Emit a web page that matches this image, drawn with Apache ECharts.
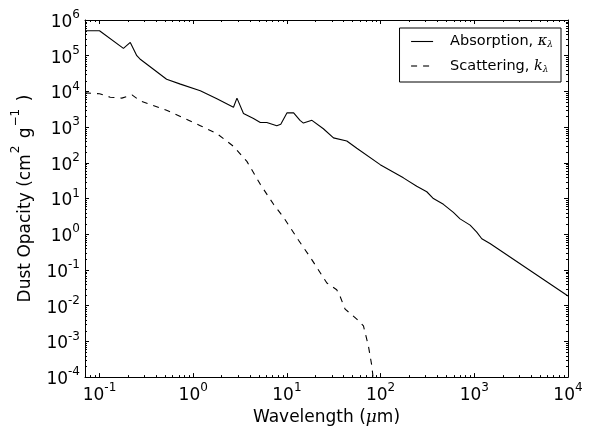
<!DOCTYPE html>
<html>
<head>
<meta charset="utf-8">
<script src="https://cdn.jsdelivr.net/npm/echarts@6/dist/echarts.min.js"></script>
<style>
html,body{margin:0;padding:0;background:#fff;}
#chart{width:593px;height:431px;}
</style>
</head>
<body>
<div id="chart"></div>
<script>
// Absorption curve (wavelength in micron, opacity cm^2/g)
var absorptionWavelength = [0.07, 0.1, 0.18, 0.213, 0.25, 0.27, 0.52, 0.73, 1.19, 1.79, 2.69, 2.93, 3.44, 4.4, 5.2, 6.1, 7.8, 8.6, 10, 11.8, 13.8, 15, 18.5, 24.5, 31.4, 43.6, 55.7, 99, 175, 243, 311, 366, 468, 598, 705, 902, 1062, 1202, 1470, 10000];
var absorptionOpacity = [5.0e5, 5.0e5, 1.6e5, 2.35e5, 1.0e5, 8.1e4, 2.2e4, 1.6e4, 1.05e4, 6.2e3, 3.6e3, 6.5e3, 2.4e3, 1.74e3, 1.35e3, 1.35e3, 1.1e3, 1.2e3, 2.5e3, 2.5e3, 1.55e3, 1.3e3, 1.55e3, 900, 500, 410, 257, 89, 38, 22, 15.5, 10, 6.9, 4.1, 2.7, 1.8, 1.15, 0.75, 0.55, 0.0186];
// Scattering curve
var scatteringWavelength = [0.07, 0.1, 0.13, 0.173, 0.222, 0.27, 0.52, 1.19, 1.79, 2.69, 3.74, 5.2, 7.2, 9.2, 13.3, 17.7, 26.7, 34, 37, 41.8, 55.7, 65.6, 74, 80.5, 83];
var scatteringOpacity = [9.1e3, 8.6e3, 6.9e3, 6.5e3, 8.0e3, 5.5e3, 2.96e3, 1.1e3, 660, 290, 110, 25, 6.9, 3.0, 0.68, 0.23, 0.043, 0.028, 0.018, 0.008, 0.0042, 0.0027, 7.6e-4, 2.1e-4, 1.0e-4];
// Axis ranges
var xRange = [0.07, 10000];
var yRange = [1e-4, 1e6];
var xDecades = [-2, -1, 0, 1, 2, 3];
var yDecades = [-4, -3, -2, -1, 0, 1, 2, 3, 4, 5];
var minorMultipliers = [2, 3, 4, 5, 6, 7, 8, 9];

function zip(a, b) { return a.map(function (v, i) { return [v, b[i]]; }); }
function minorList(decades, range) {
  var out = [];
  decades.forEach(function (d) {
    minorMultipliers.forEach(function (m) {
      var v = m * Math.pow(10, d);
      if (v > range[0] && v < range[1]) out.push(v);
    });
  });
  return out;
}
var xMinor = minorList(xDecades, xRange).map(function (v) { return [v, 1]; });
var yMinor = minorList(yDecades, yRange).map(function (v) { return [1, v]; });

var FONT = 'DejaVu Sans';
function powLabel(v) {
  var l = Math.log10(v);
  var e = Math.round(l);
  if (Math.abs(l - e) > 1e-6) return '';
  return '{b|10}{s|' + e + '}';
}
var labelRich = {
  b: { fontSize: 17, fontFamily: FONT, color: '#000', lineHeight: 22, verticalAlign: 'bottom' },
  s: { fontSize: 12, fontFamily: FONT, color: '#000', lineHeight: 22, verticalAlign: 'top', padding: [0, 0, 7, 0] }
};

var chart = echarts.init(document.getElementById('chart'), null, { renderer: 'canvas' });

function minorTickRender(isX) {
  return function (params, api) {
    var cs = params.coordSys;
    var p = api.coord([api.value(0), api.value(1)]);
    var ch;
    if (isX) {
      var x = Math.round(p[0]) + 0.5;
      ch = [
        { type: 'line', shape: { x1: x, y1: cs.y + cs.height, x2: x, y2: cs.y + cs.height - 2 }, style: { stroke: '#000', lineWidth: 1 } },
        { type: 'line', shape: { x1: x, y1: cs.y, x2: x, y2: cs.y + 2 }, style: { stroke: '#000', lineWidth: 1 } }
      ];
    } else {
      var y = Math.round(p[1]) + 0.5;
      ch = [
        { type: 'line', shape: { x1: cs.x, y1: y, x2: cs.x + 2, y2: y }, style: { stroke: '#000', lineWidth: 1 } },
        { type: 'line', shape: { x1: cs.x + cs.width, y1: y, x2: cs.x + cs.width - 2, y2: y }, style: { stroke: '#000', lineWidth: 1 } }
      ];
    }
    return { type: 'group', children: ch };
  };
}

var option = {
  backgroundColor: '#fff',
  animation: false,
  grid: { left: 85, right: 25, top: 20, bottom: 49, containLabel: false },
  legend: {
    orient: 'vertical',
    right: 32,
    top: 28,
    data: ['Absorption', 'Scattering'],
    itemWidth: 22,
    itemHeight: 14,
    itemGap: 9,
    padding: [6, 8, 8, 11],
    borderColor: '#000',
    borderWidth: 1,
    borderRadius: 0,
    itemStyle: { opacity: 0 },
    lineStyle: { width: 1.1 },
    formatter: function (name) {
      if (name === 'Absorption') return '{t|Absorption, }{m|κ}{sub|λ}';
      return '{t|Scattering, }{m|k}{sub|λ}';
    },
    textStyle: {
      padding: [0, 0, 0, 12],
      rich: {
        t: { fontSize: 14.5, fontFamily: FONT, color: '#000', lineHeight: 16 },
        m: { fontSize: 14.5, fontFamily: 'DejaVu Serif', fontStyle: 'italic', color: '#000', lineHeight: 16 },
        sub: { fontSize: 9, fontFamily: 'DejaVu Serif', fontStyle: 'italic', color: '#000', lineHeight: 16, verticalAlign: 'bottom', padding: [6, 0, 0, 0] }
      }
    }
  },
  xAxis: [{
    type: 'log', logBase: 10, min: xRange[0], max: xRange[1],
    position: 'bottom',
    name: '{t|Wavelength (}{m|μ}{t|m)}',
    nameLocation: 'middle', nameGap: 30,
    nameTextStyle: {
      rich: {
        t: { fontSize: 17, fontFamily: FONT, color: '#000' },
        m: { fontSize: 17, fontFamily: 'DejaVu Serif', fontStyle: 'italic', color: '#000' }
      }
    },
    axisLine: { show: true, lineStyle: { color: '#000', width: 1 } },
    axisTick: { show: true, inside: true, length: 4, lineStyle: { color: '#000' } },
    axisLabel: { show: true, showMinLabel: false, formatter: powLabel, rich: labelRich, margin: 5 },
    splitLine: { show: false }
  }, {
    type: 'log', logBase: 10, min: xRange[0], max: xRange[1],
    position: 'top',
    axisLine: { show: true, lineStyle: { color: '#000', width: 1 } },
    axisTick: { show: true, inside: true, length: 4, lineStyle: { color: '#000' } },
    axisLabel: { show: false },
    splitLine: { show: false }
  }],
  yAxis: [{
    type: 'log', logBase: 10, min: yRange[0], max: yRange[1], interval: 1,
    position: 'left',
    name: '{t|Dust Opacity (cm}{s|2}{t| g}{s|−1}{t| )}',
    nameLocation: 'middle', nameGap: 51, nameRotate: 90,
    nameTextStyle: {
      rich: {
        t: { fontSize: 17, fontFamily: FONT, color: '#000', lineHeight: 24, verticalAlign: 'bottom' },
        s: { fontSize: 12, fontFamily: FONT, color: '#000', lineHeight: 24, verticalAlign: 'top', padding: [0, 2, 8, 1] }
      }
    },
    axisLine: { show: true, lineStyle: { color: '#000', width: 1 } },
    axisTick: { show: true, inside: true, length: 4, lineStyle: { color: '#000' } },
    axisLabel: { show: true, formatter: powLabel, rich: labelRich, margin: 5 },
    splitLine: { show: false }
  }, {
    type: 'log', logBase: 10, min: yRange[0], max: yRange[1], interval: 1,
    position: 'right',
    axisLine: { show: true, lineStyle: { color: '#000', width: 1 } },
    axisTick: { show: true, inside: true, length: 4, lineStyle: { color: '#000' } },
    axisLabel: { show: false },
    splitLine: { show: false }
  }],
  series: [{
    name: 'Absorption', type: 'line', xAxisIndex: 0, yAxisIndex: 0,
    data: zip(absorptionWavelength, absorptionOpacity),
    symbol: 'none', smooth: false,
    lineStyle: { color: '#000', width: 1.1, type: 'solid' },
    itemStyle: { color: '#000' }
  }, {
    name: 'Scattering', type: 'line', xAxisIndex: 0, yAxisIndex: 0,
    data: zip(scatteringWavelength, scatteringOpacity),
    symbol: 'none', smooth: false,
    lineStyle: { color: '#000', width: 1.1, type: [6, 6] },
    itemStyle: { color: '#000' }
  }, {
    name: 'xminor', type: 'custom', xAxisIndex: 0, yAxisIndex: 0,
    data: xMinor, renderItem: minorTickRender(true), silent: true, clip: false
  }, {
    name: 'yminor', type: 'custom', xAxisIndex: 0, yAxisIndex: 0,
    data: yMinor, renderItem: minorTickRender(false), silent: true, clip: false
  }]
};
chart.setOption(option);
</script>
</body>
</html>
